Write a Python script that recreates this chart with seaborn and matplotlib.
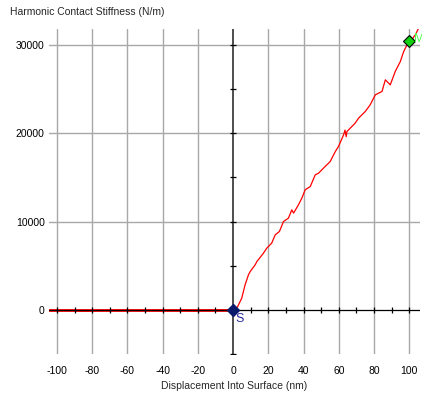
import numpy as np
import pandas as pd
import seaborn as sns
import matplotlib
matplotlib.use("Agg")
import matplotlib.pyplot as plt

# Data
displacement = [-100, -92, -88, -84, -80, -76, -60, -40, -25, -22, -19, -10, 0,
                2.4, 4.9, 6.8, 8.7, 9.7, 12.5, 13.5, 17.2, 19.1, 21.9, 23.9, 26.3,
                28.6, 31.4, 33.3, 34.3, 37.1, 39.0, 40.9, 43.8, 46.6, 48.5, 51.3,
                55.1, 58.0, 59.8, 62.7, 63.5, 64.2, 64.6, 67.4, 69.3, 71.2, 75.0,
                77.8, 80.7, 84.5, 86.4, 89.2, 92.0, 94.9, 96.8, 98.7, 100.6, 103.4,
                105.3]
stiffness = [-60, -60, -120, -180, -140, -60, -60, -60, -60, -140, -60, -60, 0,
             300, 1320, 2830, 3960, 4340, 5090, 5470, 6410, 6980, 7550, 8490, 8870,
             10000, 10380, 11320, 10950, 11890, 12640, 13590, 13960, 15280, 15470,
             16040, 16790, 17920, 18490, 19810, 20350, 19600, 20190, 20750, 21140,
             21700, 22450, 23210, 24340, 24720, 26040, 25470, 26980, 28110, 29240,
             30000, 30380, 31130, 31890]

marker_labels = ["S", "M"]
marker_x = [0, 100]
marker_y = [0, 30400]

x_ticks = [-100, -80, -60, -40, -20, 0, 20, 40, 60, 80, 100]
y_ticks = [0, 10000, 20000, 30000]
x_axis_minor = list(range(-100, 101, 10))
y_axis_minor = list(range(-5000, 30001, 5000))

df = pd.DataFrame({"Displacement": displacement, "Stiffness": stiffness})

sns.set_theme(style="white")
plt.rcParams["font.family"] = ["Liberation Sans", "DejaVu Sans"]

fig = plt.figure(figsize=(4.22, 3.96), dpi=100)
ax = fig.add_axes([0.116, 0.106, 0.879, 0.821])

ax.set_xlim(-104.5, 106)
ax.set_ylim(-5000, 31800)

# grid lines
for xv in x_ticks:
    if xv == 0:
        continue
    ax.axvline(xv, color="#a8a8a8", lw=1.0, zorder=1)
for yv in y_ticks:
    if yv == 0:
        continue
    ax.axhline(yv, color="#a8a8a8", lw=1.0, zorder=1)
ax.axvline(0, color="#404040", lw=1.3, zorder=2)

sns.lineplot(data=df, x="Displacement", y="Stiffness", sort=False, estimator=None,
             color="#ff0000", lw=0.9, ax=ax, zorder=3)
ax.axhline(0, xmin=0, xmax=(0 - (-104.5)) / 210.5, color="#ff0000", lw=2.0, zorder=2.5)
ax.axhline(0, color="black", lw=0.9, zorder=4)

# axis tick marks on the zero lines
ax.plot(x_axis_minor, [0] * len(x_axis_minor), ls="none", marker="|", ms=4.5,
        mew=0.9, color="black", zorder=4)
ax.plot([0] * len(y_axis_minor), y_axis_minor, ls="none", marker="_", ms=4.5,
        mew=0.9, color="black", zorder=4)

# markers
ax.plot([marker_x[0]], [marker_y[0]], marker="D", ms=6, color="#0a1a6a",
        mec="#0a1a6a", ls="none", zorder=6, clip_on=False)
ax.plot([marker_x[1]], [marker_y[1]], marker="D", ms=6, color="#10d010",
        mec="black", mew=0.8, ls="none", zorder=6, clip_on=False)
ax.text(marker_x[0] + 1.5, marker_y[0] - 300, marker_labels[0], color="#2a2aa0",
        fontsize=9, va="top", ha="left", zorder=7)
ax.text(marker_x[1] + 2.5, marker_y[1] + 300, marker_labels[1], color="#50ff50",
        fontsize=9, va="center", ha="left", zorder=7, clip_on=False)

ax.set_xticks(x_ticks)
ax.set_yticks(y_ticks)
ax.set_xticklabels([str(v) for v in x_ticks])
ax.set_yticklabels([str(v) for v in y_ticks])
ax.tick_params(axis="both", length=0, labelsize=7.5, colors="black", pad=3)
ax.tick_params(axis="x", pad=8.5)
for s in ax.spines.values():
    s.set_visible(False)
ax.set_xlabel("Displacement Into Surface (nm)", fontsize=7.5, labelpad=4)
ax.set_ylabel("")
fig.text(10 / 422, 1 - 12 / 396, "Harmonic Contact Stiffness (N/m)", fontsize=7.5,
         ha="left", va="center")

fig.savefig("out.png", dpi=100)
